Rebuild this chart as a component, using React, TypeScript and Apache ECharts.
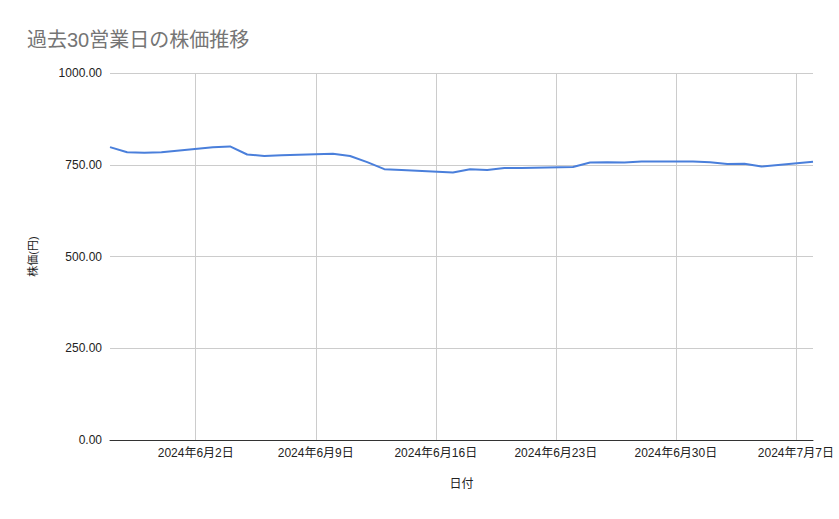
import React, { useEffect, useRef } from 'react';
import * as echarts from 'echarts';

const title = '過去30営業日の株価推移';
const xAxisName = '日付';
const yAxisName = '株価(円)';

// 営業日 (2024) as [month, day]
const tradingDays: [number, number][] = [
  [5, 28], [5, 29], [5, 30], [5, 31],
  [6, 3], [6, 4], [6, 5], [6, 6], [6, 7],
  [6, 10], [6, 11], [6, 12], [6, 13], [6, 14],
  [6, 17], [6, 18], [6, 19], [6, 20], [6, 21],
  [6, 24], [6, 25], [6, 26], [6, 27], [6, 28],
  [7, 1], [7, 2], [7, 3], [7, 4], [7, 5],
  [7, 8],
];

const prices = [
  798, 784, 783, 784,
  798, 800, 778, 774, 776,
  780, 774, 757, 738, 736,
  729, 738, 736, 741, 741,
  744, 756, 757, 756, 759,
  759, 757, 752, 753, 745,
  758,
];

// weekly tick labels (Sundays)
const tickDays: [number, number][] = [
  [6, 2], [6, 9], [6, 16], [6, 23], [6, 30], [7, 7],
];

const axisStart: [number, number] = [5, 28];
const axisEnd: [number, number] = [7, 8];

const yTicks = [0, 250, 500, 750, 1000];

const toTime = ([m, d]: [number, number]) => new Date(2024, m - 1, d).getTime();

const fontFamily = '"Liberation Sans", "Noto Sans CJK JP", sans-serif';

function buildOption(): echarts.EChartsCoreOption {
  const tickTimes = tickDays.map(toTime);
  return {
    animation: false,
    textStyle: { fontFamily },
    title: {
      text: title,
      left: 22,
      top: 25,
      textStyle: {
        fontFamily,
        fontSize: 20,
        fontWeight: 'normal',
        color: '#757575',
      },
    },
    grid: {
      left: 110,
      right: 26,
      top: 73,
      bottom: 79,
      containLabel: false,
    },
    xAxis: {
      type: 'value',
      min: toTime(axisStart),
      max: toTime(axisEnd),
      name: xAxisName,
      nameLocation: 'middle',
      nameGap: 38,
      nameTextStyle: { fontFamily, fontSize: 12, color: '#222' },
      axisLine: { show: true, lineStyle: { color: '#333', width: 1 } },
      axisTick: { show: false },
      splitLine: { show: false },
      axisLabel: {
        customValues: tickTimes,
        margin: 7,
        fontSize: 12,
        color: '#222',
        fontFamily,
        formatter: (v: number) => {
          const d = new Date(v);
          return `${d.getFullYear()}年${d.getMonth() + 1}月${d.getDate()}日`;
        },
      },
    },
    yAxis: {
      type: 'value',
      min: yTicks[0],
      max: yTicks[yTicks.length - 1],
      interval: yTicks[1] - yTicks[0],
      name: yAxisName,
      nameLocation: 'middle',
      nameRotate: 90,
      nameGap: 72,
      nameTextStyle: { fontFamily, fontSize: 11, color: '#222' },
      axisLine: { show: false },
      axisTick: { show: false },
      axisLabel: {
        margin: 8,
        fontSize: 12,
        color: '#222',
        fontFamily,
        formatter: (v: number) => v.toFixed(2),
      },
      splitLine: { lineStyle: { color: '#cccccc', width: 1 } },
    },
    series: [
      {
        type: 'line',
        data: tradingDays.map((d, i) => [toTime(d), prices[i]]),
        showSymbol: false,
        silent: true,
        lineStyle: { color: '#4a7fdb', width: 2, join: 'round' },
        itemStyle: { color: '#4a7fdb' },
        z: 3,
        markLine: {
          silent: true,
          symbol: 'none',
          label: { show: false },
          lineStyle: { color: '#cccccc', width: 1, type: 'solid' },
          data: tickTimes.map(t => ({ xAxis: t })),
          z: 1,
        },
      },
    ],
  };
}

export default function App() {
  const ref = useRef<HTMLDivElement | null>(null);

  useEffect(() => {
    document.body.style.margin = '0';
    if (!ref.current) return undefined;
    const chart = echarts.init(ref.current, undefined, { renderer: 'svg' });
    chart.setOption(buildOption());
    return () => {
      chart.dispose();
    };
  }, []);

  return (
    <div
      ref={ref}
      style={{ position: 'absolute', left: 0, top: 0, width: 839, height: 519, background: '#fff' }}
    />
  );
}
